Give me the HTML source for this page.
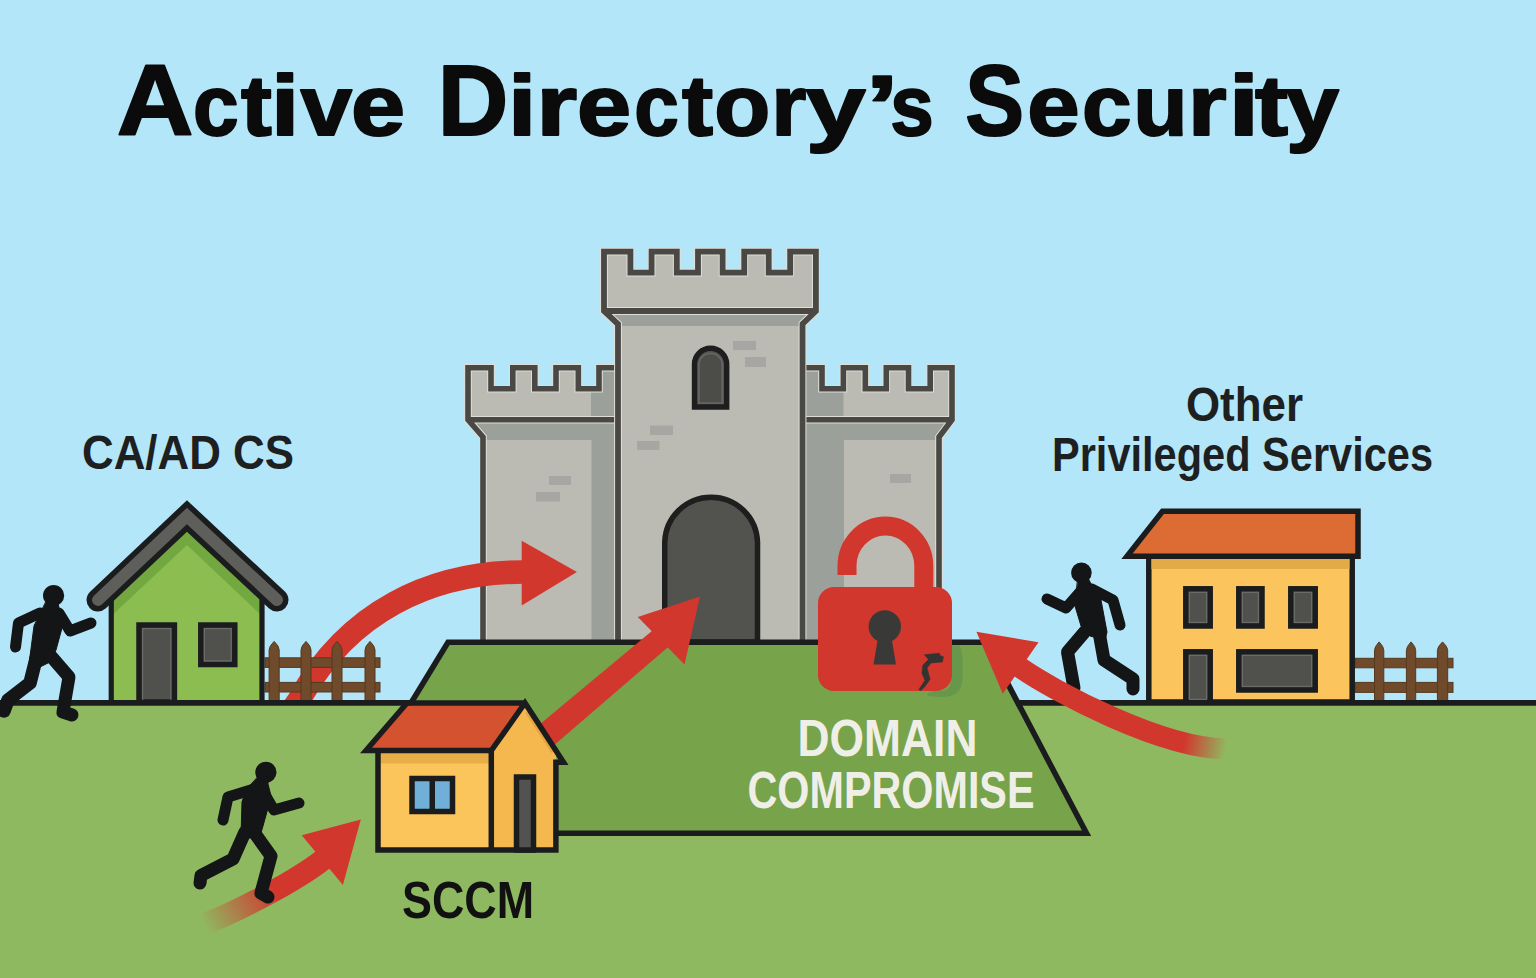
<!DOCTYPE html>
<html><head><meta charset="utf-8"><title>Active Directory's Security</title>
<style>
html,body{margin:0;padding:0;width:1536px;height:978px;overflow:hidden;background:#b4e6f9;}
svg{display:block;}
text{font-family:"Liberation Sans",sans-serif;font-weight:bold;}
</style></head>
<body>
<svg width="1536" height="978" viewBox="0 0 1536 978">
<defs>
<linearGradient id="fade3" gradientUnits="userSpaceOnUse" x1="203" y1="924" x2="272" y2="885">
<stop offset="0" stop-color="#d2372d" stop-opacity="0"/><stop offset="1" stop-color="#d2372d" stop-opacity="1"/>
</linearGradient>
<linearGradient id="fade4" gradientUnits="userSpaceOnUse" x1="1226" y1="750" x2="1184" y2="742">
<stop offset="0" stop-color="#d2372d" stop-opacity="0"/><stop offset="1" stop-color="#d2372d" stop-opacity="1"/>
</linearGradient>
<clipPath id="a1clip"><rect x="0" y="0" width="1536" height="701"/></clipPath>
<clipPath id="platclip"><rect x="0" y="645" width="1536" height="200"/></clipPath>
<filter id="blur4" x="-50%" y="-50%" width="200%" height="200%"><feGaussianBlur stdDeviation="2.2"/></filter>
</defs>

<!-- sky & ground -->
<rect x="0" y="0" width="1536" height="978" fill="#b4e6f9"/>
<rect x="0" y="702" width="1536" height="276" fill="#8fb961"/>

<!-- TITLE -->
<g fill="#0b0b0b" stroke="#0b0b0b" stroke-width="2" stroke-linejoin="round">
<text x="116.68" y="135" font-size="100" textLength="76.68" lengthAdjust="spacingAndGlyphs">A</text>
<text x="193.09" y="135" font-size="86" textLength="45.67" lengthAdjust="spacingAndGlyphs">c</text>
<text x="240.9" y="135" font-size="86" textLength="30.81" lengthAdjust="spacingAndGlyphs">t</text>
<text x="271.07" y="135" font-size="86" textLength="28.35" lengthAdjust="spacingAndGlyphs">i</text>
<text x="300.4" y="135" font-size="86" textLength="51.63" lengthAdjust="spacingAndGlyphs">v</text>
<text x="350.94" y="135" font-size="86" textLength="54.15" lengthAdjust="spacingAndGlyphs">e</text>
<text x="437.84" y="135" font-size="100" textLength="70.5" lengthAdjust="spacingAndGlyphs">D</text>
<text x="508.07" y="135" font-size="86" textLength="28.35" lengthAdjust="spacingAndGlyphs">i</text>
<text x="536.19" y="135" font-size="86" textLength="40.88" lengthAdjust="spacingAndGlyphs">r</text>
<text x="577.14" y="135" font-size="86" textLength="54.15" lengthAdjust="spacingAndGlyphs">e</text>
<text x="634.14" y="135" font-size="86" textLength="44.58" lengthAdjust="spacingAndGlyphs">c</text>
<text x="682.0" y="135" font-size="86" textLength="31.11" lengthAdjust="spacingAndGlyphs">t</text>
<text x="714.17" y="135" font-size="86" textLength="56.05" lengthAdjust="spacingAndGlyphs">o</text>
<text x="771.27" y="135" font-size="86" textLength="35.02" lengthAdjust="spacingAndGlyphs">r</text>
<text x="805.8" y="135" font-size="86" textLength="60.0" lengthAdjust="spacingAndGlyphs">y</text>
<text x="865.54" y="135" font-size="86" textLength="33.3" lengthAdjust="spacingAndGlyphs">’</text>
<text x="890.18" y="135" font-size="86" textLength="43.5" lengthAdjust="spacingAndGlyphs">s</text>
<text x="965.14" y="135" font-size="100" textLength="58.85" lengthAdjust="spacingAndGlyphs">S</text>
<text x="1027.21" y="135" font-size="86" textLength="52.41" lengthAdjust="spacingAndGlyphs">e</text>
<text x="1082.03" y="135" font-size="86" textLength="49.58" lengthAdjust="spacingAndGlyphs">c</text>
<text x="1133.36" y="135" font-size="86" textLength="54.34" lengthAdjust="spacingAndGlyphs">u</text>
<text x="1187.7" y="135" font-size="86" textLength="38.85" lengthAdjust="spacingAndGlyphs">r</text>
<text x="1228.57" y="135" font-size="86" textLength="30.74" lengthAdjust="spacingAndGlyphs">i</text>
<text x="1255.0" y="135" font-size="86" textLength="33.08" lengthAdjust="spacingAndGlyphs">t</text>
<text x="1286.0" y="135" font-size="86" textLength="53.13" lengthAdjust="spacingAndGlyphs">y</text>
</g>

<!-- labels -->
<text x="82" y="469" font-size="48" fill="#1e1f20" textLength="212" lengthAdjust="spacingAndGlyphs">CA/AD CS</text>
<text x="1186" y="421" font-size="49" fill="#1e1f20" textLength="117" lengthAdjust="spacingAndGlyphs">Other</text>
<text x="1052" y="471" font-size="49" fill="#1e1f20" textLength="381" lengthAdjust="spacingAndGlyphs">Privileged Services</text>


<!-- CASTLE -->

<g id="castle">
<!-- left tower -->
<path d="M468,419.75 L468,367.8 L491,367.8 L491,388.7 L512.8,388.7 L512.8,367.8 L534.8,367.8 L534.8,388.7 L556,388.7 L556,367.8 L578.3,367.8 L578.3,388.7 L599,388.7 L599,367.8 L618,367.8 L618,642 L483,642 L483,437 Z" fill="#bbbbb3"/>
<path d="M599,370 L616,370 L616,420 L591,420 L591,391 L599,391 Z" fill="#9ca09b"/>
<path d="M470,422 L616,422 L616,642 L591.5,642 L591.5,440 L485,440 Z" fill="#9ca09b"/>
<rect x="549" y="476" width="22" height="9" fill="#a6a7a2"/>
<rect x="536" y="492" width="24" height="9.5" fill="#a6a7a2"/>
<path d="M483,642 L483,437 L468,419.75 L468,367.8 L491,367.8 L491,388.7 L512.8,388.7 L512.8,367.8 L534.8,367.8 L534.8,388.7 L556,388.7 L556,367.8 L578.3,367.8 L578.3,388.7 L599,388.7 L599,367.8 L618,367.8 M468,419.75 L618,419.75" fill="none" stroke="#dfded6" stroke-width="7.6" stroke-linejoin="miter"/>
<path d="M483,642 L483,437 L468,419.75 L468,367.8 L491,367.8 L491,388.7 L512.8,388.7 L512.8,367.8 L534.8,367.8 L534.8,388.7 L556,388.7 L556,367.8 L578.3,367.8 L578.3,388.7 L599,388.7 L599,367.8 L618,367.8 M468,419.75 L618,419.75" fill="none" stroke="#4a4844" stroke-width="5.6" stroke-linejoin="miter"/>
<!-- right tower -->
<path d="M802.5,367.8 L822,367.8 L822,388.7 L843.4,388.7 L843.4,367.8 L865.3,367.8 L865.3,388.7 L886.3,388.7 L886.3,367.8 L908.5,367.8 L908.5,388.7 L930.2,388.7 L930.2,367.8 L952,367.8 L952,419.75 L939,437 L939,642 L802.5,642 Z" fill="#bbbbb3"/>
<path d="M804,370 L822,370 L822,391 L843.5,391 L843.5,420 L804,420 Z" fill="#9ca09b"/>
<path d="M804,422 L950,422 L936.5,440 L844,440 L844,642 L804,642 Z" fill="#9ca09b"/>
<rect x="890" y="474" width="21" height="9" fill="#a6a7a2"/>
<path d="M802.5,367.8 L822,367.8 L822,388.7 L843.4,388.7 L843.4,367.8 L865.3,367.8 L865.3,388.7 L886.3,388.7 L886.3,367.8 L908.5,367.8 L908.5,388.7 L930.2,388.7 L930.2,367.8 L952,367.8 L952,419.75 L939,437 L939,642 M802.5,419.75 L952,419.75" fill="none" stroke="#dfded6" stroke-width="7.6" stroke-linejoin="miter"/>
<path d="M802.5,367.8 L822,367.8 L822,388.7 L843.4,388.7 L843.4,367.8 L865.3,367.8 L865.3,388.7 L886.3,388.7 L886.3,367.8 L908.5,367.8 L908.5,388.7 L930.2,388.7 L930.2,367.8 L952,367.8 L952,419.75 L939,437 L939,642 M802.5,419.75 L952,419.75" fill="none" stroke="#4a4844" stroke-width="5.6" stroke-linejoin="miter"/>
<!-- main tower -->
<path d="M604,311 L604,251.6 L630.4,251.6 L630.4,272.7 L651.6,272.7 L651.6,251.6 L676.8,251.6 L676.8,272.7 L698,272.7 L698,251.6 L722.6,251.6 L722.6,272.7 L744.25,272.7 L744.25,251.6 L768.7,251.6 L768.7,272.7 L790.2,272.7 L790.2,251.6 L815.9,251.6 L815.9,311 L802.5,324 L802.5,642 L618,642 L618,324 Z" fill="#bbbbb3"/>
<path d="M606,314 L814,314 L802,326 L620,326 Z" fill="#9ca09b"/>
<rect x="733" y="341" width="23" height="9" fill="#a6a7a2"/>
<rect x="745" y="357" width="21" height="10" fill="#a6a7a2"/>
<rect x="650" y="425.5" width="23" height="9.5" fill="#a6a7a2"/>
<rect x="637" y="441" width="22.5" height="9" fill="#a6a7a2"/>
<path d="M618,642 L618,324 L604,311 L604,251.6 L630.4,251.6 L630.4,272.7 L651.6,272.7 L651.6,251.6 L676.8,251.6 L676.8,272.7 L698,272.7 L698,251.6 L722.6,251.6 L722.6,272.7 L744.25,272.7 L744.25,251.6 L768.7,251.6 L768.7,272.7 L790.2,272.7 L790.2,251.6 L815.9,251.6 L815.9,311 L802.5,324 L802.5,642 M604,311 L815.9,311" fill="none" stroke="#dfded6" stroke-width="7.8" stroke-linejoin="miter"/>
<path d="M618,642 L618,324 L604,311 L604,251.6 L630.4,251.6 L630.4,272.7 L651.6,272.7 L651.6,251.6 L676.8,251.6 L676.8,272.7 L698,272.7 L698,251.6 L722.6,251.6 L722.6,272.7 L744.25,272.7 L744.25,251.6 L768.7,251.6 L768.7,272.7 L790.2,272.7 L790.2,251.6 L815.9,251.6 L815.9,311 L802.5,324 L802.5,642 M604,311 L815.9,311" fill="none" stroke="#4a4844" stroke-width="5.8" stroke-linejoin="miter"/>
<!-- window -->
<path d="M694.5,407 L694.5,364.4 A16.1,16.1 0 0 1 726.7,364.4 L726.7,407 Z" fill="#555552" stroke="#1e1e1e" stroke-width="5.4"/>
<path d="M699,403 L699,365 A11.6,11.6 0 0 1 722.2,365 L722.2,403 Z" fill="#4c4c49" stroke="#676764" stroke-width="1.5"/>
<!-- door -->
<path d="M664.75,642 L664.75,542.1 A46.4,46.4 0 0 1 757.5,542.1 L757.5,642 Z" fill="#52524f" stroke="#1e1e1e" stroke-width="5.5"/>
</g>



<!-- arrow 1 (behind fence) -->
<g id="arrow1" clip-path="url(#a1clip)">
<path d="M292.3,709.9 L299,700 C348,612 430,572 524,572" fill="none" stroke="#d2372d" stroke-width="23.5"/>
<polygon points="521.7,540.8 576.9,572 521.7,605.4" fill="#d2372d"/>
</g>
<!-- platform -->
<rect x="0" y="700" width="1536" height="5.5" fill="#1b1c1e"/>
<polygon points="448,642.3 986,642.3 1086.5,833.3 556,833.3 556,763 525,703 411,703" fill="#77a34b"/>
<path d="M411,703 L448,642.3 L986,642.3 L1086.5,833.3 L550,833.3" fill="none" stroke="#1b1c1e" stroke-width="5.6" stroke-linejoin="miter"/>

<!-- left fence -->
<g id="fence1" fill="#6f4b2c" stroke="#55391f" stroke-width="1">
<rect x="265" y="657.8" width="115" height="9.6"/>
<rect x="265" y="682.4" width="115" height="9.6"/>
<path d="M269.1,700.5 L269.1,649.9 Q269.1,646.1999999999999 274.15,641.4 Q279.2,646.1999999999999 279.2,649.9 L279.2,700.5 Z"/>
<path d="M301,700.5 L301,649.9 Q301,646.1999999999999 306.0,641.4 Q311,646.1999999999999 311,649.9 L311,700.5 Z"/>
<path d="M332,700.5 L332,649.9 Q332,646.1999999999999 337.0,641.4 Q342,646.1999999999999 342,649.9 L342,700.5 Z"/>
<path d="M365,700.5 L365,649.9 Q365,646.1999999999999 370.0,641.4 Q375,646.1999999999999 375,649.9 L375,700.5 Z"/>
</g>
<!-- right fence -->
<g id="fence2" fill="#6f4b2c" stroke="#55391f" stroke-width="1">
<rect x="1355" y="658.3" width="98" height="9.5"/>
<rect x="1355" y="682.4" width="98" height="10"/>
<path d="M1374.5,700.5 L1374.5,650.4 Q1374.5,646.6999999999999 1379.15,641.9 Q1383.8,646.6999999999999 1383.8,650.4 L1383.8,700.5 Z"/>
<path d="M1406.4,700.5 L1406.4,650.4 Q1406.4,646.6999999999999 1411.0500000000002,641.9 Q1415.7,646.6999999999999 1415.7,650.4 L1415.7,700.5 Z"/>
<path d="M1437.4,700.5 L1437.4,650.4 Q1437.4,646.6999999999999 1442.5500000000002,641.9 Q1447.7,646.6999999999999 1447.7,650.4 L1447.7,700.5 Z"/>
</g>

<!-- green house -->
<g id="greenhouse">
<polygon points="111.25,702 111.25,590 187,520 262,590 262,702" fill="#8bbd51"/>
<polygon points="111.25,590 187,520 262,590 262,616 187,545 111.25,616" fill="#72a83f"/>
<path d="M111.25,700.5 L111.25,585 M262,702 L262,585" stroke="#1b1c1e" stroke-width="5.2"/>
<rect x="139" y="625" width="35.4" height="77" fill="#50504d" stroke="#1b1c1e" stroke-width="5.5"/>
<rect x="142.6" y="628.6" width="28.2" height="72" fill="none" stroke="#6b6b67" stroke-width="1.2"/>
<rect x="200.8" y="625" width="34" height="39.5" fill="#50504d" stroke="#1b1c1e" stroke-width="5.5"/>
<rect x="204.4" y="628.6" width="26.8" height="32.3" fill="none" stroke="#6b6b67" stroke-width="1.2"/>
<polyline points="98,600 187,516 277,600" fill="none" stroke="#1b1c1e" stroke-width="23" stroke-linecap="round" stroke-linejoin="miter"/>
<polyline points="98,600 187,516 277,600" fill="none" stroke="#5e5e5b" stroke-width="12" stroke-linecap="round" stroke-linejoin="miter"/>
</g>

<!-- lock -->
<g id="lock">
<path d="M950,645.5 L959,645.5 Q962.5,650 962.5,660 L962.5,678 Q962.5,697 942,697 L928,696 Q925,692 935,691 L940,691 Q951.5,691 951.5,678 Z" fill="#66974a"/>
<path d="M847,575 L847,566 A38.4,40 0 0 1 923.8,566 L923.8,600" fill="none" stroke="#d2372d" stroke-width="19"/>
<rect x="818" y="587" width="134" height="104" rx="16" fill="#d2372d"/>
<circle cx="884.8" cy="626.5" r="16.2" fill="#393938"/>
<polygon points="878,638 891.5,638 896,664.5 873.5,664.5" fill="#393938"/>
<polygon points="924.5,654.8 939.3,653.2 940.3,655.8 943.4,656.8 942.4,661.9 931.1,662.9 927,668 930.1,679.3 925,686.4 920.9,690.5 918.8,689.5 925,680.3 921.9,673.2 922.9,665 928.5,659.5" fill="#333332" stroke="#333332" stroke-width="0.6" stroke-linejoin="round"/>

</g>

<!-- arrow 2 -->
<g id="arrow2">
<polygon points="503.25,754.8 653.7,629.6 669.3,646.1 516.9,777.1" fill="#d2372d"/>
<polygon points="637.8,616.9 684.5,664.5 700,596.5" fill="#d2372d"/>
</g>
<!-- SCCM house -->
<g id="sccm" stroke="#1b1c1e" stroke-width="5.5" stroke-linejoin="miter">
<polygon points="491.3,750.5 525,705 555.9,752 555.9,850 491.3,850" fill="#f5b84f" stroke="none"/>
<polyline points="527,712 553,752" fill="none" stroke="#e3a63f" stroke-width="4"/>
<rect x="378" y="750.5" width="113.3" height="99.5" fill="#fbc55c" stroke="none"/>
<rect x="380" y="753" width="109" height="10.5" fill="#e8ad46" stroke="none"/>
<polygon points="407,703 525,703 491.3,750.5 366,750.5" fill="#d4522f" stroke="none"/>
<path d="M525,703 L407,703 L366,750.5 L491.3,750.5 L525,703 L563.5,762.3 L555.9,762.3 L555.9,850 L378,850 L378,750.5 M491.3,750.5 L491.3,850" fill="none"/>
<rect x="412" y="778.5" width="40.5" height="33" fill="#70b0d8"/>
<line x1="432.25" y1="778.5" x2="432.25" y2="811.5"/>
<rect x="516.5" y="777" width="17" height="73" fill="#525250"/>
</g>

<!-- right house -->
<g id="righthouse" stroke="#1b1c1e" stroke-width="5.5" stroke-linejoin="miter">
<rect x="1148.8" y="556" width="203.4" height="146" fill="#fcc45d"/>
<rect x="1151.5" y="559" width="198" height="10" fill="#e3ab48" stroke="none"/>
<polygon points="1162.5,511.3 1358,511.3 1358,556.3 1127,556.3" fill="#dd6b34"/>
<rect x="1185.8" y="588.8" width="24.4" height="37.2" fill="#50504d"/>
<rect x="1238.8" y="588.8" width="23.2" height="37.2" fill="#50504d"/>
<rect x="1290.8" y="588.8" width="24.4" height="37.2" fill="#50504d"/>
<rect x="1185.8" y="651.8" width="24.4" height="50" fill="#50504d"/>
<rect x="1238.8" y="651.8" width="76.4" height="38.2" fill="#50504d"/>
<g fill="none" stroke="#6b6b67" stroke-width="1.2">
<rect x="1189.4" y="592.4" width="17.2" height="30"/>
<rect x="1242.4" y="592.4" width="16" height="30"/>
<rect x="1294.4" y="592.4" width="17.2" height="30"/>
<rect x="1189.4" y="655.4" width="17.2" height="44"/>
<rect x="1242.4" y="655.4" width="69.2" height="31"/>
</g>
</g>

<!-- horizon redraw -->
<rect x="0" y="700" width="411" height="5.5" fill="#1b1c1e"/>
<rect x="1018" y="700" width="518" height="5.5" fill="#1b1c1e"/>

<!-- arrow 3 -->
<g id="arrow3">
<path d="M205,924 C245,908 297.9,879.1 322.3,860.2 L326.2,857" fill="none" stroke="url(#fade3)" stroke-width="22"/>
<polygon points="301.7,835.3 342.9,885.1 360.8,819.6" fill="#d2372d"/>
</g>
<!-- runners -->
<g id="runners" fill="#141516" stroke="#141516" stroke-linecap="round" stroke-linejoin="round">
<circle cx="53.6" cy="595.5" r="10.6" stroke="none"/>
<polygon points="47,600 58,602 59,608 62,628 56,650 50,662 38,668 29,664 34,626" stroke-width="1"/>
<polyline fill="none" points="40,613 18.5,623 15.5,647" stroke-width="11"/>
<polyline fill="none" points="59,613 70,631 91,623" stroke-width="11"/>
<polyline fill="none" points="37,655 30,683 8,700 4,711" stroke-width="13.5"/>
<polyline fill="none" points="50,655 69,677 63,712 72,715" stroke-width="13"/>

<circle cx="265.9" cy="772.3" r="10.6" stroke="none"/>
<polygon points="258,777 268,779 268,784 272,800 268,808 263,826 260,836 250,838 241,836 242,802 246,790" stroke-width="1"/>
<polyline fill="none" points="254,789 228,797 223,820" stroke-width="11"/>
<polyline fill="none" points="264,793 274,810 299,803" stroke-width="11"/>
<polyline fill="none" points="245,832 233,859 201,875.5 200,883" stroke-width="13"/>
<polyline fill="none" points="256,835 271,856 261,893 268,897" stroke-width="13"/>

<circle cx="1081.4" cy="572.7" r="10.3" stroke="none"/>
<polygon points="1078,578 1088,578 1090,582 1101,600 1107,632 1105,640 1090,636 1081,626 1075,606" stroke-width="1"/>
<polyline fill="none" points="1080,592 1066,608 1047,599" stroke-width="11"/>
<polyline fill="none" points="1092,589 1113,600 1120,625" stroke-width="11"/>
<polyline fill="none" points="1088,628 1067.5,652 1074,688" stroke-width="13"/>
<polyline fill="none" points="1099,632 1104,660 1133,679 1133,689" stroke-width="13"/>
</g>

<!-- arrow 4 -->
<g id="arrow4">
<path d="M1226,749 C1160,748 1053.5,690.75 1020.65,667.95 L1016.5,665.1" fill="none" stroke="url(#fade4)" stroke-width="21"/>
<polygon points="1038.5,642.2 1002.8,693.7 976.4,631.7" fill="#d2372d"/>
</g>

<!-- platform labels -->
<text x="797.5" y="755.5" font-size="51" fill="#efefe8" textLength="180" lengthAdjust="spacingAndGlyphs">DOMAIN</text>
<text x="747.5" y="808" font-size="51" fill="#efefe8" textLength="287" lengthAdjust="spacingAndGlyphs">COMPROMISE</text>
<text x="402" y="918" font-size="52" fill="#111111" textLength="132" lengthAdjust="spacingAndGlyphs">SCCM</text>

</svg>
</body></html>
